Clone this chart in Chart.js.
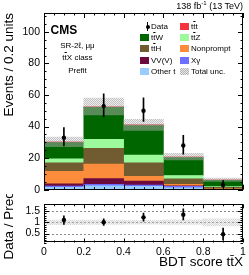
<!DOCTYPE html>
<html>
<head>
<meta charset="utf-8">
<title>BDT score ttX</title>
<script src="https://cdn.jsdelivr.net/npm/chart.js@4.4.1/dist/chart.umd.min.js"></script>
<style>
  body { margin: 0; background: #fff; }
  #plot { position: relative; width: 249px; height: 275px; overflow: hidden; font-family: "Liberation Sans", Arial, sans-serif; color: #000; }
  #plot canvas { position: absolute; left: 0; }
  .lbl { position: absolute; white-space: nowrap; }
  .ob { text-decoration: overline; }
  .leg { position: absolute; height: 11px; display: flex; align-items: center; font-size: 8px; line-height: 11px; white-space: nowrap; }
  .leg .box { position: relative; width: 9px; height: 7px; margin-right: 2px; flex: none; }
</style>
</head>
<body>
<div id="plot">
  <canvas id="mainChart" width="249" height="200" style="top:0"></canvas>
  <canvas id="ratioChart" width="249" height="81" style="top:194px"></canvas>
  <div class="lbl" style="right:6px;top:1.5px;font-size:9px;line-height:9px">138 fb<span style="font-size:6px;position:relative;top:-3.5px">-1</span> (13 TeV)</div>
  <div class="lbl" style="left:50.5px;top:23.5px;font-size:12px;line-height:12px;font-weight:bold">CMS</div>
  <div class="lbl" style="left:47px;width:61px;top:39.5px;font-size:8px;line-height:12.5px;text-align:center">SR-2ℓ, μμ<br>t<span class="ob">t</span>X class<br>Prefit</div>
  <div id="legend"></div>
</div>
<script>
// Bin centres of the BDT score (bins of width 0.2)
const binCentres = [0.1, 0.3, 0.5, 0.7, 0.9];

// Prefit predictions per process, bottom of the stack first
const otherT    = [1.5, 2.5, 2.2, 1.2, 0.1];
const xGamma    = [0.8, 0.9, 0.8, 0.9, 0.1];
const vvv       = [1.4, 3.6, 2.4, 0.3, 0.1];
const nonprompt = [8.0, 9.2, 3.0, 1.0, 0.2];
const ttH       = [5.4, 10.0, 8.6, 3.5, 1.0];
const ttZ       = [2.5, 5.7, 4.9, 2.1, 0.4];
const ttW       = [10.2, 20.3, 18.8, 11.4, 4.1];
const ttt       = [0.5, 0.5, 0.5, 0.4, 0.3];

// Observed data and its error bars
const observed   = [33, 53, 50, 28, 3];
const observedLo = [27.7, 46.2, 43.2, 22.5, 1.4];
const observedHi = [39.3, 60.8, 58.2, 34.5, 5.8];

// Total uncertainty band on the prediction
const uncLo = [27.2, 47.4, 37.6, 18.8, 5.3];
const uncHi = [33.4, 58.0, 44.6, 23.0, 7.3];

// Data / prediction
const ratio   = [1.10, 1.00, 1.22, 1.34, 0.47];
const ratioLo = [0.90, 0.86, 1.05, 1.10, 0.20];
const ratioHi = [1.29, 1.15, 1.41, 1.60, 0.74];

// Tick labels
const xTicks = [0, 0.2, 0.4, 0.6, 0.8, 1];
const yTicks = [0, 20, 40, 60, 80, 100];
const ratioTicks = [0.5, 1, 1.5];

const processes = [
    { key: 'otherT', label: 'Other t', values: otherT, color: '#99ccff' },
    { key: 'xg', label: 'X&gamma;', values: xGamma, color: '#6e6eff' },
    { key: 'vvv', label: 'VV(V)', values: vvv, color: '#6c0a3e' },
    { key: 'np', label: 'Nonprompt', values: nonprompt, color: '#fa8c3c' },
    { key: 'tth', label: 't<span class="ob">t</span>H', values: ttH, color: '#705c30' },
    { key: 'ttz', label: 't<span class="ob">t</span>Z', values: ttZ, color: '#9cfa9c' },
    { key: 'ttw', label: 't<span class="ob">t</span>W', values: ttW, color: '#006600' },
    { key: 'ttt', label: 't<span class="ob">t</span>t', values: ttt, color: '#f5333f' }
];

const totals = binCentres.map((_, i) => processes.reduce((s, p) => s + p.values[i], 0));

Chart.defaults.font.family = '"Liberation Sans", Arial, sans-serif';
Chart.defaults.color = '#000';

// small checkered fill, like ROOT's hatched uncertainty band
function checker(ctx, a, b) {
    const c = document.createElement('canvas');
    c.width = c.height = 2;
    const g = c.getContext('2d');
    g.fillStyle = a; g.fillRect(0, 0, 1, 1); g.fillRect(1, 1, 1, 1);
    g.fillStyle = b; g.fillRect(1, 0, 1, 1); g.fillRect(0, 1, 1, 1);
    return ctx.createPattern(c, 'repeat');
}

// frame with inward ticks on all four sides (ROOT style)
const frameTicks = {
    id: 'frameTicks',
    beforeDatasetsDraw(chart, args, o) {
        if (!o.refLines) return;
        const { ctx, chartArea: a } = chart;
        const y = chart.scales.y;
        ctx.save();
        ctx.strokeStyle = '#8a8a8a';
        ctx.lineWidth = 1;
        ctx.setLineDash([2, 2]);
        o.refLines.forEach(v => {
            const py = Math.round(y.getPixelForValue(v)) + 0.5;
            ctx.beginPath();
            ctx.moveTo(a.left, py);
            ctx.lineTo(a.right, py);
            ctx.stroke();
        });
        ctx.restore();
    },
    afterDatasetsDraw(chart, args, o) {
        const { ctx, chartArea: a, scales: { x, y } } = chart;
        const isMajor = (v, step) => Math.abs(v / step - Math.round(v / step)) < 1e-6;
        ctx.save();
        ctx.strokeStyle = '#000';
        ctx.lineWidth = 1;
        ctx.strokeRect(Math.round(a.left) + 0.5, Math.round(a.top) + 0.5, Math.round(a.width) - 1, Math.round(a.height) - 1);
        ctx.beginPath();
        for (let i = Math.ceil(x.min / o.xMinor - 1e-6); i * o.xMinor <= x.max + 1e-6; i++) {
            const v = i * o.xMinor;
            const px = Math.round(x.getPixelForValue(v)) + 0.5;
            const len = isMajor(v, o.xMajor) ? o.xLen : o.xLen / 2;
            ctx.moveTo(px, a.bottom); ctx.lineTo(px, a.bottom - len);
            ctx.moveTo(px, a.top); ctx.lineTo(px, a.top + len);
        }
        for (let i = Math.ceil(y.min / o.yMinor - 1e-6); i * o.yMinor <= y.max + 1e-6; i++) {
            const v = i * o.yMinor;
            const py = Math.round(y.getPixelForValue(v)) + 0.5;
            const len = isMajor(v, o.yMajor) ? o.yLen : o.yLen / 2;
            ctx.moveTo(a.left, py); ctx.lineTo(a.left + len, py);
            ctx.moveTo(a.right, py); ctx.lineTo(a.right - len, py);
        }
        ctx.stroke();
        ctx.restore();
    }
};

const fixTicks = values => axis => { axis.ticks = values.map(v => ({ value: v })); };
const fmt = v => String(+v.toFixed(2));

// ---- main panel ----
const mainCtx = document.getElementById('mainChart').getContext('2d');
const mainDatasets = [
    {
        type: 'line', label: 'Data',
        data: binCentres.map((b, i) => ({ x: b, y: observed[i] })),
        showLine: false, pointRadius: 2.2, pointBackgroundColor: '#000', pointBorderWidth: 0
    },
    {
        type: 'bar', label: 'Data error',
        data: binCentres.map((b, i) => ({ x: b, y: [observedLo[i], observedHi[i]] })),
        backgroundColor: '#000', barThickness: 1, stack: 'err'
    },
    {
        type: 'bar', label: 'Total unc.',
        data: binCentres.map((b, i) => ({ x: b, y: [uncLo[i], uncHi[i]] })),
        backgroundColor: checker(mainCtx, 'rgba(150,150,150,0.6)', 'rgba(215,215,215,0.4)'), stack: 'unc'
    }
].concat(processes.map(p => ({
    type: 'bar', label: p.key,
    data: binCentres.map((b, i) => ({ x: b, y: p.values[i] })),
    backgroundColor: p.color, stack: 'mc'
})));

new Chart(mainCtx, {
    type: 'bar',
    data: { datasets: mainDatasets },
    plugins: [frameTicks],
    options: {
        responsive: false,
        animation: false,
        layout: { padding: { top: 13, right: 6, bottom: 7.5, left: 0 } },
        datasets: { bar: { grouped: false, barPercentage: 1, categoryPercentage: 1, borderWidth: 0 } },
        plugins: {
            legend: { display: false },
            tooltip: { enabled: false },
            frameTicks: { xMinor: 0.05, xMajor: 0.2, xLen: 5, yMinor: 5, yMajor: 20, yLen: 5 }
        },
        scales: {
            x: { type: 'linear', min: 0, max: 1, offset: false, display: false, afterBuildTicks: fixTicks(xTicks) },
            y: {
                type: 'linear', min: 0, max: 112, stacked: true,
                afterBuildTicks: fixTicks(yTicks),
                afterFit: s => { s.width = 44; },
                grid: { display: false, drawTicks: false },
                border: { display: false },
                ticks: { font: { size: 10.5 }, padding: 4, callback: fmt },
                title: { display: true, text: 'Events / 0.2 units', align: 'end', font: { size: 13.5 }, padding: { top: 1.5, bottom: 0 } }
            }
        }
    }
});

// ---- ratio panel ----
const ratioCtx = document.getElementById('ratioChart').getContext('2d');
new Chart(ratioCtx, {
    type: 'bar',
    data: {
        datasets: [
            {
                type: 'line', label: 'Data / Pred.',
                data: binCentres.map((b, i) => ({ x: b, y: ratio[i] })),
                showLine: false, pointRadius: 2.2, pointBackgroundColor: '#000', pointBorderWidth: 0
            },
            {
                type: 'bar', label: 'ratio error',
                data: binCentres.map((b, i) => ({ x: b, y: [ratioLo[i], ratioHi[i]] })),
                backgroundColor: '#000', barThickness: 1
            },
            {
                type: 'bar', label: 'ratio unc.',
                data: binCentres.map((b, i) => ({ x: b, y: [uncLo[i] / totals[i], uncHi[i] / totals[i]] })),
                backgroundColor: checker(ratioCtx, 'rgba(170,170,170,0.45)', 'rgba(225,225,225,0.4)')
            }
        ]
    },
    plugins: [frameTicks],
    options: {
        responsive: false,
        animation: false,
        layout: { padding: { top: 6, right: 6, bottom: 4.5, left: 0 } },
        datasets: { bar: { grouped: false, barPercentage: 1, categoryPercentage: 1, borderWidth: 0 } },
        plugins: {
            legend: { display: false },
            tooltip: { enabled: false },
            frameTicks: { refLines: ratioTicks, xMinor: 0.05, xMajor: 0.2, xLen: 4, yMinor: 0.1, yMajor: 0.5, yLen: 5 }
        },
        scales: {
            x: {
                type: 'linear', min: 0, max: 1, offset: false,
                afterBuildTicks: fixTicks(xTicks),
                afterFit: s => { s.height = 28; },
                grid: { display: false, drawTicks: false },
                border: { display: false },
                ticks: { font: { size: 10.5 }, padding: 3, maxRotation: 0, autoSkip: false, callback: fmt },
                title: { display: true, text: 'BDT score tt\u0304X', align: 'end', font: { size: 13.5 }, padding: { top: 0, bottom: 0 } }
            },
            y: {
                type: 'linear', min: 0.1, max: 1.8,
                afterBuildTicks: fixTicks(ratioTicks),
                afterFit: s => { s.width = 44; },
                grid: { display: false, drawTicks: false },
                border: { display: false },
                ticks: { font: { size: 10.5 }, padding: 4, callback: fmt },
                title: { display: true, text: 'Data / Pred.', align: 'center', font: { size: 13.5 }, padding: { top: 1.5, bottom: 0 } }
            }
        }
    }
});

// ---- legend (two columns, read row by row) ----
const byKey = Object.fromEntries(processes.map(p => [p.key, p]));
const legendOrder = ['data', 'ttt', 'ttw', 'ttz', 'tth', 'np', 'vvv', 'xg', 'otherT', 'unc'];
const legendEl = document.getElementById('legend');
legendOrder.forEach((key, k) => {
    const col = k % 2, row = Math.floor(k / 2);
    const item = document.createElement('div');
    item.className = 'leg';
    item.style.left = (col ? 180 : 140) + 'px';
    item.style.top = (20.7 + row * 11.33) + 'px';
    let box, text;
    if (key === 'data') {
        box = '<span class="box"><i style="position:absolute;left:7px;top:-1px;width:1px;height:9px;background:#000"></i>' +
              '<i style="position:absolute;left:5.5px;top:2px;width:4px;height:4px;border-radius:50%;background:#000"></i></span>';
        text = 'Data';
    } else if (key === 'unc') {
        box = '<span class="box" style="background:repeating-conic-gradient(#b4b4b4 0% 25%, #e8e8e8 0% 50%) 0 0 / 2px 2px"></span>';
        text = 'Total unc.';
    } else {
        box = '<span class="box" style="background:' + byKey[key].color + '"></span>';
        text = byKey[key].label;
    }
    item.innerHTML = box + '<span>' + text + '</span>';
    legendEl.appendChild(item);
});
</script>
</body>
</html>
